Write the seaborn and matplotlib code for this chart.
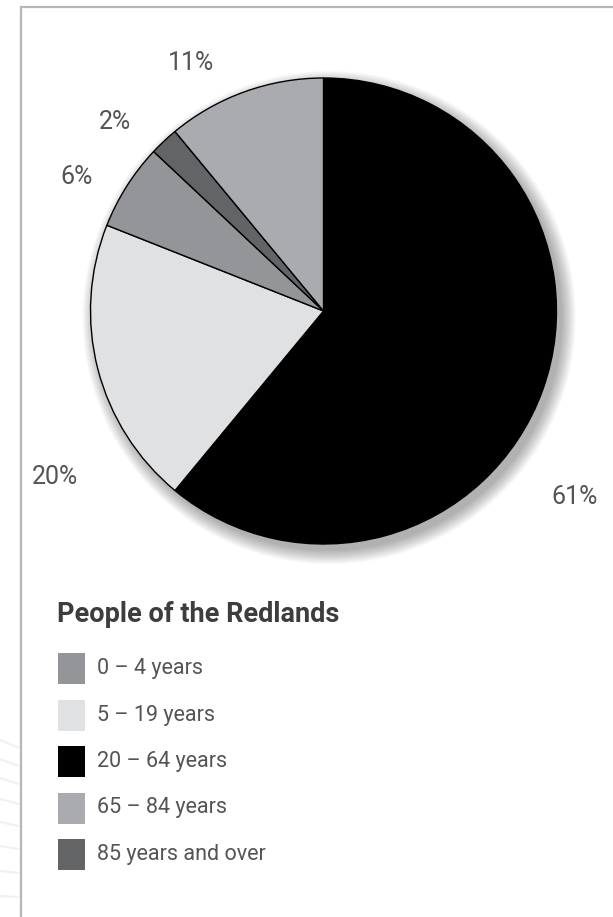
import matplotlib
matplotlib.use("Agg")
import matplotlib.pyplot as plt
from matplotlib.patches import Rectangle, Circle
from matplotlib.lines import Line2D
import seaborn as sns

# Age groups of the Redlands population, in legend order
age_groups = ["0 – 4 years", "5 – 19 years", "20 – 64 years", "65 – 84 years", "85 years and over"]
shares = [6, 20, 61, 11, 2]
group_colors = ["#939598", "#e0e1e3", "#000000", "#a9abae", "#636466"]

# Clockwise order of the wedges, starting at twelve o'clock
pie_order = ["20 – 64 years", "5 – 19 years", "0 – 4 years", "85 years and over", "65 – 84 years"]

# Where each percentage label sits (pie data units, radius = 1)
label_pos = {
    "65 – 84 years": (-0.569, 1.064),
    "85 years and over": (-0.895, 0.811),
    "0 – 4 years": (-1.058, 0.575),
    "5 – 19 years": (-1.152, -0.712),
    "20 – 64 years": (1.079, -0.798),
}

legend_title = "People of the Redlands"

sns.set_theme(style="white")
plt.rcParams["font.family"] = ["Roboto", "DejaVu Sans"]

W, H = 613, 917
fig = plt.figure(figsize=(W / 100, H / 100), dpi=100)
fig.patch.set_facecolor("white")


def fx(px):
    return px / W


def fy(py):
    return 1 - py / H


# Panel frame, open towards the right and bottom edges
fig.patches.append(Rectangle((fx(21), -0.1), 1.2, fy(7) + 0.1,
                             transform=fig.transFigure, fill=False,
                             edgecolor="#b5b6b8", linewidth=1.6))

# Faint background strokes left of the frame
for i, y0 in enumerate([748, 766, 784, 804, 826, 849, 873, 897]):
    fig.lines.append(Line2D([0, fx(19)], [fy(y0 - 8 + i), fy(y0)],
                            transform=fig.transFigure, color="#f1f1f3",
                            linewidth=1.6))

palette = dict(zip(age_groups, sns.color_palette(group_colors)))
value_of = dict(zip(age_groups, shares))

cx, cy, r = 323.5, 311, 233
ax = fig.add_axes([fx(cx - r), fy(cy + r), 2 * r / W, 2 * r / H])

# Soft drop shadow under the pie, falling to the lower right
for k in range(14):
    ax.add_patch(Circle((0.024, -0.028), 1.0 + 0.0045 * k, facecolor="#000000",
                        edgecolor="none", alpha=0.024, zorder=0, clip_on=False))
ax.add_patch(Circle((0, 0), 1.0, facecolor="white", edgecolor="none", zorder=0.5))

wedges, _ = ax.pie([value_of[g] for g in pie_order],
                   colors=[palette[g] for g in pie_order],
                   startangle=90, counterclock=False, radius=1.0,
                   wedgeprops=dict(edgecolor="#000000", linewidth=1.0),
                   frame=True)
ax.set_xlim(-1, 1)
ax.set_ylim(-1, 1)
ax.axis("off")
for w in wedges:
    w.set_zorder(2)
    w.set_clip_on(False)

text_color = "#545456"
for g in pie_order:
    x, y = label_pos[g]
    ax.text(x, y, f"{value_of[g]}%", ha="center", va="center",
            fontsize=18, fontweight="normal", color=text_color, clip_on=False)

# Legend: title, then one swatch and label per age group
fig.text(fx(57), fy(622), legend_title, ha="left", va="baseline",
         fontsize=19.5, fontweight="bold", color="#3d3d3f")
for i, g in enumerate(age_groups):
    top = 653 + 46.5 * i
    fig.patches.append(Rectangle((fx(58), fy(top + 31)), 27 / W, 31 / H,
                                 transform=fig.transFigure,
                                 facecolor=palette[g], edgecolor="none"))
    fig.text(fx(97), fy(top + 15.5), g, ha="left", va="center",
             fontsize=15.5, fontweight="normal", color=text_color)

fig.savefig("out.png", dpi=100, facecolor="white")
